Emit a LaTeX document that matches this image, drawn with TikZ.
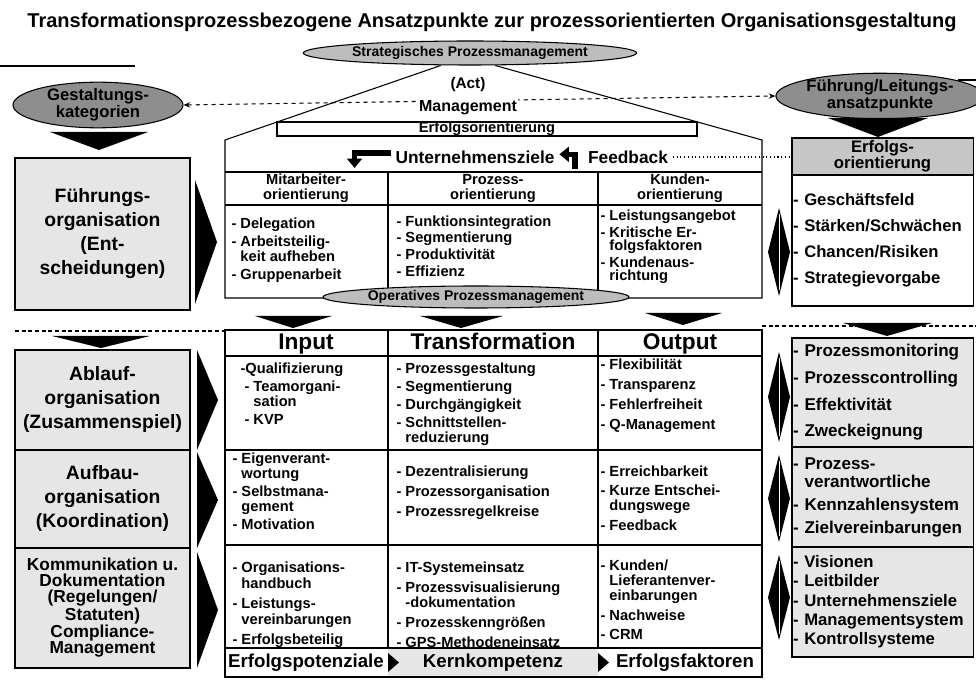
\documentclass[tikz,border=0pt]{standalone}
\usepackage{fontspec}
\setmainfont{Liberation Sans}
\usetikzlibrary{shapes.geometric,arrows.meta}
\definecolor{ScanGray}{HTML}{E6E6E6}
\definecolor{HeadGray}{HTML}{C6C6C6}
\definecolor{EllLight}{HTML}{BDBDBD}
\definecolor{EllDark}{HTML}{8E8E8E}
\newcommand{\bsize}[2]{\fontsize{#1}{#2}\selectfont\bfseries}

\begin{document}
\begin{tikzpicture}[x=0.75pt,y=-0.75pt,line width=0.8pt,
  ell/.style={ellipse,draw=black,fill=EllLight,inner sep=0pt},
  lbox/.style={draw=black,fill=ScanGray,minimum width=131.25pt,align=center,inner sep=0pt,font=\bsize{14.5}{18}},
  rbox/.style={draw=black,fill=ScanGray,minimum width=135.75pt,text width=134pt,align=left,inner xsep=0.9pt,inner ysep=0pt,font=\bsize{12.5}{13}},
  items/.style={anchor=north west,align=left,inner sep=0pt,font=\bsize{11}{11.5}},
  fatarrow/.style={line width=4pt,-{Triangle[length=7pt,width=11pt]}}]
  \useasboundingbox (0,0) rectangle (976,691);

  \node[font=\bsize{15}{16}] (title) at (492,22) {Transformationsprozessbezogene Ansatzpunkte zur prozessorientierten Organisationsgestaltung};
  \draw (0,66) -- (135,66);
  \draw (958,80) -- (976,80);

  % ellipses at the top
  \node[ell,minimum width=198.75pt,minimum height=18pt,font=\bsize{10.5}{12}] (strat) at (470,53) {Strategisches Prozessmanagement};
  \node[ell,fill=EllDark,minimum width=127.5pt,minimum height=33pt,align=center,font=\bsize{12.5}{12.5}] (gest) at (98,105) {Gestaltungs-\\kategorien};
  \node[ell,fill=EllDark,minimum width=127.5pt,minimum height=33pt,align=center,font=\bsize{12.5}{12.5}] (fuehr) at (880,96) {Führung/Leitungs-\\ansatzpunkte};
  \draw[dashed,{Stealth[length=5pt,width=4pt]}-{Stealth[length=5pt,width=4pt]}] (gest.east) -- (fuehr.west);

  \node[fill=white,inner sep=1pt,font=\bsize{11.5}{12}] (act) at (468,85) {(Act)};
  \node[fill=white,inner sep=1pt,font=\bsize{12}{13}] (mgmt) at (468,108) {Management};

  % roof and upper box
  \coordinate (roofL) at (225,140);
  \coordinate (roofR) at (762,140);
  \draw ([xshift=-22pt]strat.south) -- (roofL) -- (225,298) -| (roofR) -- ([xshift=19pt]strat.south);
  \node[draw,fill=white,minimum width=315pt,minimum height=10.5pt,inner sep=0pt,font=\bsize{11}{11}] (erfo) at (487,129) {Erfolgsorientierung};

  \node[font=\bsize{13}{13}] (ziel) at (475,157) {Unternehmensziele};
  \node[font=\bsize{13}{13}] (feed) at (628,157) {Feedback};
  \draw[fatarrow] ([yshift=3pt]ziel.west) -- ++(-36,0) -- ++(0,15);
  \draw[fatarrow] ([xshift=-6pt,yshift=-9pt]feed.west) |- ([yshift=2pt]ziel.east);

  % upper table
  \draw (225,172) -- (762,172);
  \draw (225,205) -- (762,205);
  \draw (388,172) -- (388,298);
  \draw (598,172) -- (598,298);
  \node[align=center,font=\bsize{11}{11.5}] (mahead) at (306,188.5) {Mitarbeiter-\\orientierung};
  \node[align=center,font=\bsize{11}{11.5}] (prhead) at (493,188.5) {Prozess-\\orientierung};
  \node[align=center,font=\bsize{11}{11.5}] (kuhead) at (680,188.5) {Kunden-\\orientierung};
  \node[items] (mitems) at (231,217) {- Delegation\\[2pt]- Arbeitsteilig-\\\hphantom{- }keit aufheben\\[2pt]- Gruppenarbeit};
  \node[items] (pitems) at (396,215) {- Funktionsintegration\\[1pt]- Segmentierung\\[1pt]- Produktivität\\[1pt]- Effizienz};
  \node[items,font=\bsize{11}{10}] (kitems) at (600,209) {- Leistungsangebot\\[1.5pt]- Kritische Er-\\\hphantom{- }folgsfaktoren\\[1.5pt]- Kundenaus-\\\hphantom{- }richtung};

  \node[ell,minimum width=217.5pt,minimum height=16.5pt,font=\bsize{10.5}{12}] (oper) at (476,297) {Operatives Prozessmanagement};

  % left column
  \fill (50,132) -- (148,132) -- (99,150) -- cycle;
  \node[lbox,minimum height=114pt] (fuehrorg) at (102.5,234) {Führungs-\\organisation\\(Ent-\\scheidungen)};
  \fill (195,180) -- (217,242) -- (195,304) -- cycle;
  \draw[dash pattern=on 3pt off 2pt] (15,331) -- (225,331);
  \fill (52,336) -- (150,336) -- (101,348) -- cycle;
  \node[lbox,minimum height=75pt] (ablauf) at (102.5,400) {Ablauf-\\organisation\\(Zusammenspiel)};
  \node[lbox,minimum height=73.5pt] (aufbau) at (102.5,499) {Aufbau-\\organisation\\(Koordination)};
  \node[lbox,minimum height=90pt,font=\bsize{13}{12}] (kommu) at (102.5,608) {Kommunikation u.\\Dokumentation\\(Regelungen/\\Statuten)\\Compliance-\\Management};
  \fill (197,350) -- (218,400) -- (197,450) -- cycle;
  \fill (197,452) -- (218,500) -- (197,548) -- cycle;
  \fill (197,552) -- (218,610) -- (197,668) -- cycle;

  % lower table
  \fill (255,316) -- (332,316) -- (293,328) -- cycle;
  \fill (420,316) -- (503,316) -- (461,328) -- cycle;
  \fill (645,313) -- (722,313) -- (683,325) -- cycle;
  \fill[ScanGray] (388,648) rectangle (598,677);
  \draw (225,330) rectangle (762,677);
  \draw (225,356) -- (762,356);
  \draw (225,450) -- (762,450);
  \draw (225,545) -- (762,545);
  \draw (225,648) -- (762,648);
  \draw (388,330) -- (388,648);
  \draw (598,330) -- (598,648);
  \node[font=\bsize{17}{17},anchor=base] (inhead) at (306,350) {Input};
  \node[font=\bsize{17}{17},anchor=base] (trhead) at (493,350) {Transformation};
  \node[font=\bsize{17}{17},anchor=base] (ouhead) at (680,350) {Output};

  \node[items] (inA) at (240,362) {-Qualifizierung\\[2pt]\hspace{3pt}- Teamorgani-\\\hspace{3pt}\hphantom{- }sation\\[2pt]\hspace{3pt}- KVP};
  \node[items] (trA) at (396,362) {- Prozessgestaltung\\[2pt]- Segmentierung\\[2pt]- Durchgängigkeit\\[2pt]- Schnittstellen-\\\hphantom{- }reduzierung};
  \node[items] (ouA) at (600,358) {- Flexibilität\\[3.5pt]- Transparenz\\[3.5pt]- Fehlerfreiheit\\[3.5pt]- Q-Management};

  \node[items] (inB) at (232,452) {- Eigenverant-\\\hphantom{- }wortung\\[2pt]- Selbstmana-\\\hphantom{- }gement\\[2pt]- Motivation};
  \node[items] (trB) at (396,465) {- Dezentralisierung\\[3.5pt]- Prozessorganisation\\[3.5pt]- Prozessregelkreise};
  \node[items] (ouB) at (600,465) {- Erreichbarkeit\\[3pt]- Kurze Entschei-\\\hphantom{- }dungswege\\[3pt]- Feedback};

  \node[items,font=\bsize{11}{12}] (inC) at (232,561) {- Organisations-\\\hphantom{- }handbuch\\[3pt]- Leistungs-\\\hphantom{- }vereinbarungen\\[3pt]- Erfolgsbeteilig};
  \node[items] (trC) at (396,561) {- IT-Systemeinsatz\\[3.5pt]- Prozessvisualisierung\\\hphantom{- }-dokumentation\\[3.5pt]- Prozesskenngrößen\\[3.5pt]- GPS-Methodeneinsatz};
  \node[items] (ouC) at (600,559) {- Kunden/\\\hphantom{- }Lieferantenver-\\\hphantom{- }einbarungen\\[3pt]- Nachweise\\[3pt]- CRM};

  \fill (388,653) -- (399,662.5) -- (388,672) -- cycle;
  \fill (598,653) -- (609,662.5) -- (598,672) -- cycle;
  \node[font=\bsize{14}{14}] (potenz) at (306,663) {Erfolgspotenziale};
  \node[font=\bsize{14}{14}] (kern) at (493,663) {Kernkompetenz};
  \node[font=\bsize{14}{14}] (faktor) at (685,663) {Erfolgsfaktoren};

  % right column
  \fill (828,118) -- (928,118) -- (878,137) -- cycle;
  \node[rbox,fill=HeadGray,align=center,minimum height=27.75pt,font=\bsize{12.5}{12}] (erfhead) at (882.5,156.5) {Erfolgs-\\orientierung};
  \node[rbox,fill=white,minimum height=98.25pt] (erflist) at (882.5,240.5) {- Geschäftsfeld\\[6.5pt]- Stärken/Schwächen\\[6.5pt]- Chancen/Risiken\\[6.5pt]- Strategievorgabe};
  \draw[dotted] (feed.east) -- (feed.east -| erfhead.west);
  \draw[dash pattern=on 3pt off 2pt] (762,326) -- (976,326);
  \fill (843,323) -- (932,323) -- (887,336) -- cycle;
  \node[rbox,minimum height=81.75pt,font=\bsize{12.8}{13}] (rmon) at (882.5,392.5) {- Prozessmonitoring\\[7pt]- Prozesscontrolling\\[7pt]- Effektivität\\[7pt]- Zweckeignung};
  \node[rbox,minimum height=75pt,font=\bsize{12.8}{14}] (rver) at (882.5,497) {- Prozess-\\\hphantom{- }verantwortliche\\[3pt]- Kennzahlensystem\\[3pt]- Zielvereinbarungen};
  \node[rbox,minimum height=82.5pt,font=\bsize{12.5}{14.5}] (rvis) at (882.5,602) {- Visionen\\- Leitbilder\\- Unternehmensziele\\- Managementsystem\\- Kontrollsysteme};

  \foreach \top/\bot in {208/296,352/442,455/542,555/640} {
    \fill (779,\top) -- (790,{(\top+\bot)/2}) -- (779,\bot) -- (768,{(\top+\bot)/2}) -- cycle;
    \draw[white,line width=0.6pt] (779,\top+6) -- (779,\bot-6);
  }
\end{tikzpicture}
\end{document}
